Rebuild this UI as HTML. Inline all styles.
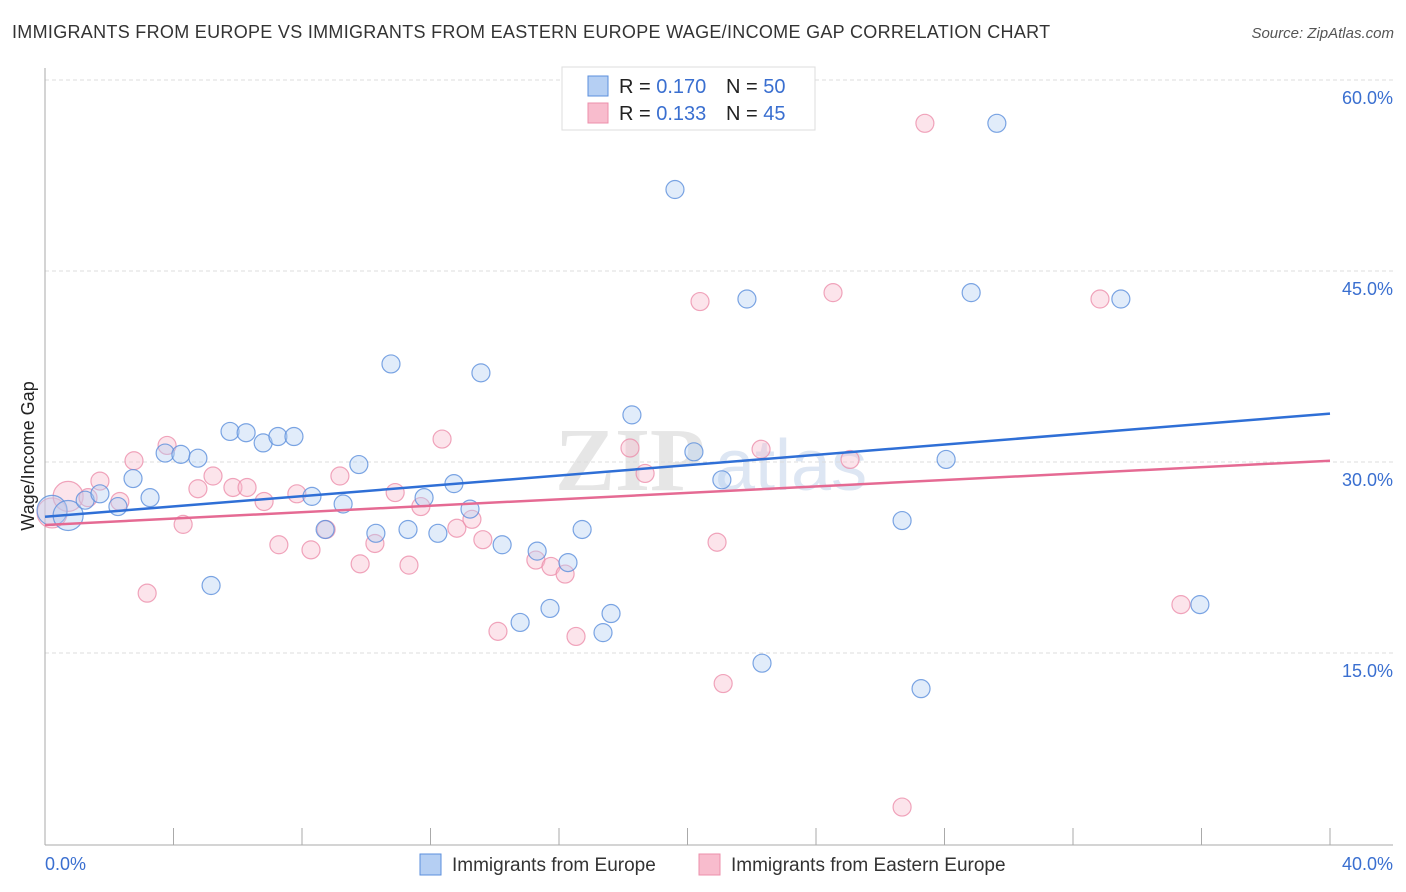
<!DOCTYPE html>
<html><head><meta charset="utf-8">
<style>
body{margin:0;background:#fff;font-family:"Liberation Sans",sans-serif;}
#wrap{position:relative;width:1406px;height:892px;overflow:hidden;}
.t{position:absolute;white-space:nowrap;}
</style></head>
<body>
<div id="wrap">
<div class="t" style="left:12px;top:22px;font-size:18px;letter-spacing:0.3px;color:#333;">IMMIGRANTS FROM EUROPE VS IMMIGRANTS FROM EASTERN EUROPE WAGE/INCOME GAP CORRELATION CHART</div>
<div class="t" style="right:12px;top:25px;font-size:15px;color:#555;font-style:italic;">Source: ZipAtlas.com</div>
<svg id="svg" width="1406" height="892" style="position:absolute;left:0;top:0"></svg>
</div>
<script>
const yTicks=[15,30,45,60];
const yTickLabels=["15.0%","30.0%","45.0%","60.0%"];
const xAxisLabels=["0.0%","40.0%"];
const europeX=[0.22,0.72,1.25,1.71,2.27,2.74,3.27,3.74,4.23,4.76,5.17,5.76,6.26,6.79,7.25,7.75,8.31,8.72,9.28,9.77,10.30,10.77,11.30,11.80,12.23,12.73,13.23,13.57,14.23,14.79,15.32,15.72,16.28,16.72,17.37,17.62,18.27,18.77,19.61,20.20,21.07,21.85,22.32,26.68,27.27,28.05,28.83,29.63,33.49,35.95];
const europeY=[26.2,25.8,27.0,27.5,26.5,28.7,27.2,30.7,30.6,30.3,20.3,32.4,32.3,31.5,32.0,32.0,27.3,24.7,26.7,29.8,24.4,37.7,24.7,27.2,24.4,28.3,26.3,37.0,23.5,17.4,23.0,18.5,22.1,24.7,16.6,18.1,33.7,58.1,51.4,30.8,28.6,42.8,14.2,25.4,12.2,30.2,43.3,56.6,42.8,18.8];
const easternX=[0.22,0.72,1.34,1.71,2.33,2.77,3.18,3.80,4.30,4.76,5.23,5.85,6.29,6.82,7.28,7.84,8.28,8.75,9.18,9.81,10.27,10.90,11.33,11.70,12.36,12.82,13.29,13.63,14.10,15.28,15.75,16.19,16.53,18.21,18.68,20.39,20.92,21.11,22.29,24.53,25.06,26.68,27.39,32.84,35.36];
const easternY=[26.0,27.3,27.2,28.5,26.9,30.1,19.7,31.3,25.1,27.9,28.9,28.0,28.0,26.9,23.5,27.5,23.1,24.7,28.9,22.0,23.6,27.6,21.9,26.5,31.8,24.8,25.5,23.9,16.7,22.3,21.8,21.2,16.3,31.1,29.1,42.6,23.7,12.6,31.0,43.3,30.2,2.9,56.6,42.8,18.8];
const europeTrend=[25.7,33.8];
const easternTrend=[25.05,30.1];

const NS="http://www.w3.org/2000/svg";
const svg=document.getElementById('svg');
const X=v=>45+v*(1285/40);
const Y=v=>844-v*(191/15);
function mk(tag,attrs,parent){const e=document.createElementNS(NS,tag);for(const k in attrs)e.setAttribute(k,attrs[k]);(parent||svg).appendChild(e);return e;}

let wm=mk('text',{x:555,y:490,'font-size':90,fill:'#e6e6e6','font-family':'Liberation Serif',"font-weight":"bold"});


wm.textContent='ZIP';
let wm2=mk('text',{x:715,y:490,'font-size':72,fill:'#dde6f3','font-family':'Liberation Sans'});


wm2.textContent='atlas';

yTicks.forEach((t,i)=>{
 const g=mk('line',{x1:45,x2:1393,y1:Y(t),y2:Y(t),stroke:'#dcdcdc','stroke-dasharray':'4,3'});
 
 
 const tx=mk('text',{x:1393,y:Y(t)+24,'text-anchor':'end','font-size':18,fill:'#3a6fd0'});
 
 
 tx.textContent=yTickLabels[i];
});
let ax=mk('line',{x1:45,x2:45,y1:68,y2:845,stroke:'#aaa'});


let bx=mk('line',{x1:45,x2:1393,y1:845,y2:845,stroke:'#aaa'});


for(let i=0;i<=10;i++){
 const tk=mk('line',{x1:X(i*4),x2:X(i*4),y1:828,y2:845,stroke:'#aaa'});
 
 
}
let xl0=mk('text',{x:45,y:870,'font-size':18,fill:'#3a6fd0'});


xl0.textContent=xAxisLabels[0];
let xl1=mk('text',{x:1393,y:870,'text-anchor':'end','font-size':18,fill:'#3a6fd0'});


xl1.textContent=xAxisLabels[1];
let yt=mk('text',{x:34,y:456,'font-size':18,fill:'#222',transform:'rotate(-90 34 456)','text-anchor':'middle'});


yt.textContent='Wage/Income Gap';

function pts(xs,ys,fill,stroke,name){
 xs.forEach((x,i)=>{
  const r=i<2?15:9;
  const c=mk('circle',{cx:X(x),cy:Y(ys[i]),r:r,fill:fill,'fill-opacity':0.4,stroke:stroke,'stroke-width':1.2,'stroke-opacity':0.8});
  
  
 });
}
pts(easternX,easternY,'#f8bccd','#ec8fab','point-eastern-europe');
pts(europeX,europeY,'#b5cff3','#5b8fdc','point-europe');
let l1=mk('line',{x1:X(0),x2:X(40),y1:Y(europeTrend[0]),y2:Y(europeTrend[1]),stroke:'#2f6fd6','stroke-width':2.5});


let l2=mk('line',{x1:X(0),x2:X(40),y1:Y(easternTrend[0]),y2:Y(easternTrend[1]),stroke:'#e56a93','stroke-width':2.5});



let lb=mk('rect',{x:562,y:67,width:253,height:63,fill:'#fff',stroke:'#ddd'});


const rows=[["0.170","50","#b5cff3","#5b8fdc"],["0.133","45","#f8bccd","#ec8fab"]];
rows.forEach((r,i)=>{
 const y=86+i*27;
 const s=mk('rect',{x:588,y:y-10,width:20,height:20,fill:r[2],stroke:r[3]});
 
 
 const t=mk('text',{x:619,y:y+7,'font-size':20,fill:'#222'});
 
 
 t.innerHTML='<tspan>R = </tspan><tspan fill="#3a6fd0">'+r[0]+'</tspan><tspan x="726">N = </tspan><tspan fill="#3a6fd0">'+r[1]+'</tspan>';
});
[["Immigrants from Europe",420,"#b5cff3","#5b8fdc"],["Immigrants from Eastern Europe",699,"#f8bccd","#ec8fab"]].forEach(r=>{
 const s=mk('rect',{x:r[1],y:854,width:21,height:21,fill:r[2],stroke:r[3]});
 
 
 const t=mk('text',{x:r[1]+32,y:871,'font-size':19,fill:'#333'});
 
 
 t.textContent=r[0];
});
</script>
</body></html>
